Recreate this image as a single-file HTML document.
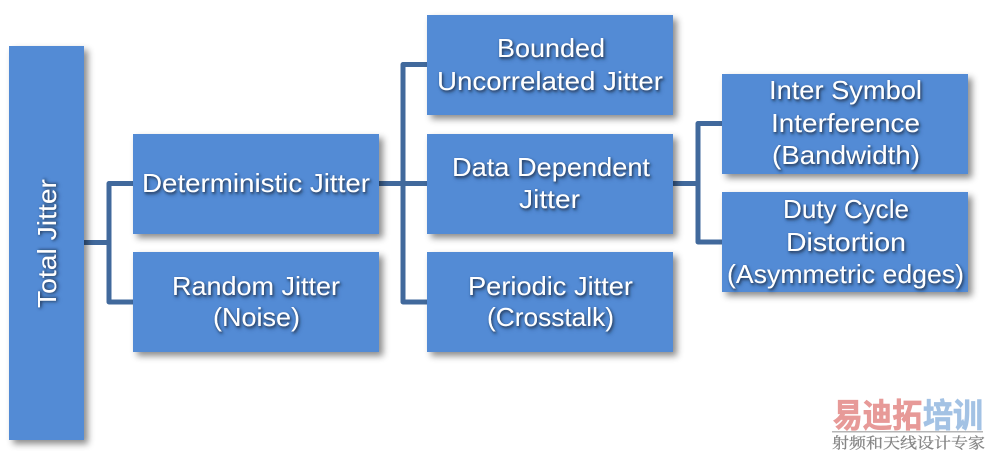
<!DOCTYPE html>
<html><head><meta charset="utf-8">
<style>
html,body{margin:0;padding:0;background:#fff;width:986px;height:451px;overflow:hidden}
svg{display:block}
.t{font-family:"Liberation Sans",sans-serif;font-size:26px;fill:#fff;filter:url(#ts)}
.w1{font-family:"Liberation Sans","Noto Sans CJK SC",sans-serif;font-weight:700;font-size:33px;stroke-width:.8}
.w2{font-family:"Noto Serif CJK SC","Liberation Serif",serif;font-size:15px;fill:#858585;stroke:#858585;stroke-width:.25}
</style></head><body>
<svg width="986" height="451" viewBox="0 0 986 451" xmlns="http://www.w3.org/2000/svg">
<defs>
<filter id="bs" x="-15%" y="-15%" width="130%" height="130%">
<feDropShadow dx="4" dy="4" stdDeviation="3.500" flood-color="#000" flood-opacity="0.45"/>
</filter>
<filter id="ts" x="-10%" y="-30%" width="120%" height="160%">
<feDropShadow dx="1" dy="1.500" stdDeviation="1.200" flood-color="#1c3050" flood-opacity="0.6"/>
</filter>
</defs>
<g fill="none" stroke="#41699c" stroke-width="5" stroke-linejoin="round">
<path d="M84 242.500H109M133 183.500H109V302H133"/>
<path d="M379 183.500H427M427 64.500H403V302H427"/>
<path d="M673 183.500H698M722 123.500H698V242H722"/>
</g>
<g fill="#538bd5" filter="url(#bs)">
<rect x="9" y="46" width="75" height="394"/>
<rect x="133" y="134" width="246" height="100"/>
<rect x="133" y="252" width="246" height="100"/>
<rect x="427" y="15" width="246" height="100"/>
<rect x="427" y="134" width="246" height="100"/>
<rect x="427" y="252" width="246" height="100"/>
<rect x="722" y="74" width="246" height="100"/>
<rect x="722" y="192" width="246" height="100"/>
</g>
<g class="t">
<text class="t" transform="translate(56 308) rotate(-90)" textLength="129" lengthAdjust="spacingAndGlyphs">Total Jitter</text>
<text class="t" x="142" y="192" textLength="228" lengthAdjust="spacingAndGlyphs">Deterministic Jitter</text>
<text class="t" x="172" y="295" textLength="168" lengthAdjust="spacingAndGlyphs">Random Jitter</text>
<text class="t" x="213" y="326" textLength="87" lengthAdjust="spacingAndGlyphs">(Noise)</text>
<text class="t" x="497" y="57" textLength="108" lengthAdjust="spacingAndGlyphs">Bounded</text>
<text class="t" x="437" y="90" textLength="226" lengthAdjust="spacingAndGlyphs">Uncorrelated Jitter</text>
<text class="t" x="452" y="176" textLength="198" lengthAdjust="spacingAndGlyphs">Data Dependent</text>
<text class="t" x="519" y="208" textLength="61" lengthAdjust="spacingAndGlyphs">Jitter</text>
<text class="t" x="468" y="295" textLength="165" lengthAdjust="spacingAndGlyphs">Periodic Jitter</text>
<text class="t" x="487" y="326" textLength="127" lengthAdjust="spacingAndGlyphs">(Crosstalk)</text>
<text class="t" x="769" y="99" textLength="153" lengthAdjust="spacingAndGlyphs">Inter Symbol</text>
<text class="t" x="771" y="132" textLength="149" lengthAdjust="spacingAndGlyphs">Interference</text>
<text class="t" x="772" y="164" textLength="148" lengthAdjust="spacingAndGlyphs">(Bandwidth)</text>
<text class="t" x="783" y="218" textLength="126" lengthAdjust="spacingAndGlyphs">Duty Cycle</text>
<text class="t" x="786" y="251" textLength="120" lengthAdjust="spacingAndGlyphs">Distortion</text>
<text class="t" x="727" y="283" textLength="237" lengthAdjust="spacingAndGlyphs">(Asymmetric edges)</text>
</g>
<text class="w1" x="833" y="427" fill="#e79a98" stroke="#e79a98" textLength="89" lengthAdjust="spacingAndGlyphs">易迪拓</text>
<text class="w1" x="923" y="427" fill="#a3c2e4" stroke="#a3c2e4" textLength="60" lengthAdjust="spacingAndGlyphs">培训</text>
<rect x="832" y="431" width="151" height="1.500" fill="#b5b5b5"/>
<text class="w2" x="832" y="448" textLength="153" lengthAdjust="spacingAndGlyphs">射频和天线设计专家</text>
</svg>
</body></html>
